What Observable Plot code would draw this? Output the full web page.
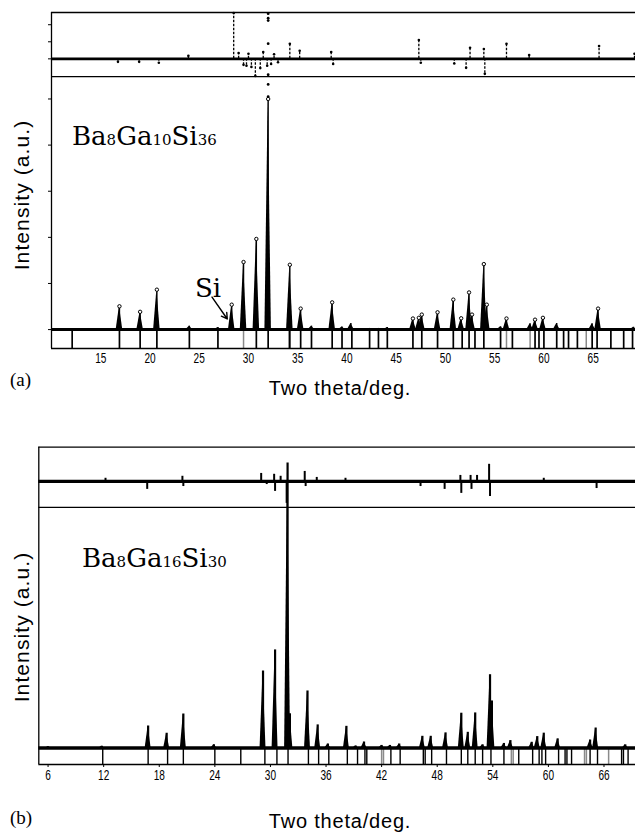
<!DOCTYPE html>
<html><head><meta charset="utf-8">
<script src="https://cdn.jsdelivr.net/npm/d3@7"></script>
<script src="https://cdn.jsdelivr.net/npm/@observablehq/plot@0.6"></script>
<style>
body{margin:0;background:#fff;}
#page{position:relative;width:635px;height:834px;overflow:hidden;background:#fff;}
.abs{position:absolute;white-space:nowrap;color:#000;}
.ylab{font-family:"Liberation Sans",Arial,sans-serif;font-size:21px;letter-spacing:1.1px;transform:translate(-50%,-50%) rotate(-90deg);}
.xlab{font-family:"Liberation Sans",Arial,sans-serif;font-size:20px;letter-spacing:0.8px;transform:translate(-50%,-50%);}
.plab{font-family:"Liberation Serif","Times New Roman",serif;font-size:19px;transform:translate(0,-50%);}
.formula{font-family:"DejaVu Serif",serif;font-size:26px;line-height:1;}
.formula .n{font-size:15px;}
svg{position:absolute;left:0;}
</style></head><body><div id="page"></div>
<script>
// ---------- Panel (a): Ba8Ga10Si36 ----------
const xTicksA = [15,20,25,30,35,40,45,50,55,60,65];
const peakPosA = [16.9,19.0,20.7,24.0,26.9,28.3,29.5,30.8,32.0,34.2,35.3,36.4,38.5,39.5,40.4,42.3,43.2,44.1,46.7,47.3,47.6,49.2,50.8,51.6,52.4,52.7,53.9,54.2,55.6,56.2,58.6,59.1,59.9,61.3,64.9,65.5,69.1];
const peakIntA = [10.1,7.7,17.3,1.5,0.9,10.8,29.3,39.3,100,28.1,9.1,1.5,11.8,1.1,2.6,0.5,0.5,0.9,4.8,5.1,6.5,7.5,13.0,4.9,16.1,6.5,28.4,10.8,1.2,4.8,2.5,4.3,5.1,2.6,2.5,9.1,1.0];
const obsExtraA = [137,135,134,124,110.5,106.3,101];   // observed points of the 32° peak above the calc. curve
const diffPosA = [16.75,18.9,20.9,23.9,28.5,29.0,29.5,29.8,30.0,30.3,30.7,31.2,31.5,31.9,32.3,32.6,33.0,34.2,35.2,38.4,38.6,47.3,47.5,50.9,52.1,52.5,53.9,54.0,56.2,58.5,65.6,69.2];
const diffValA = [-1.3,-1.3,-1.7,1.3,19.9,2.5,-2.6,-3.0,2.2,-3.5,-7.4,-4.0,3.0,-3.0,-2.2,2.0,-1.5,6.5,3.5,3.0,-2.2,8.2,-1.7,-2.0,-3.9,4.8,4.3,-6.5,6.5,1.7,5.6,2.2];
const braggA = [12.1,16.9,19.0,20.7,24.0,26.9,30.8,32.0,34.2,35.3,36.4,38.5,39.5,40.5,42.3,43.2,44.1,46.7,47.6,49.2,50.8,51.7,52.4,53.0,53.9,55.6,56.8,59.1,59.5,60.0,61.3,62.0,62.5,63.4,64.9,65.4,66.8,68.1,69.0];
const braggGrayA = [29.5,34.1,56.2,58.6,64.3];
const yTicksA = [0,20,40,60,80,100,117.4,124.8,132.2];
const siArrow = [{x1:26.3, y1:14.1, x2:27.85, y2:4.6}];

// ---------- Panel (b): Ba8Ga16Si30 ----------
const xTicksB = [6,12,18,24,30,36,42,48,54,60,66];
const peakPosB = [6.0,11.8,16.8,18.8,20.6,23.9,29.2,30.5,31.85,32.1,34.0,35.1,36.2,38.2,39.2,40.1,42.0,42.9,43.9,46.4,47.3,48.9,50.6,51.3,52.1,52.9,53.7,53.9,55.2,55.9,58.2,58.8,59.5,61.0,64.5,65.1,68.3];
const peakIntB = [0.4,0.6,7.7,5.2,11.9,1.1,27,34.4,100,12,20,8.1,1.4,7.6,0.7,2.1,0.9,0.9,1.4,4.1,4.1,5.3,12.2,5.5,12.3,1.1,25.7,16.5,1.6,2.6,2.0,4.0,5.2,3.2,2.8,7.0,1.1];
const diffPosB = [12.2,16.7,20.5,20.6,29.0,29.6,30.4,30.5,31.1,31.75,33.7,33.8,35.0,38.1,46.2,48.8,50.5,50.6,51.6,51.7,52.3,53.6,53.7,59.5,60.6,65.2];
const diffValB = [1.1,-2.8,1.8,-1.8,2.8,-1.1,2.5,-3.5,1.8,-7.7,3.5,-1.8,1.4,1.1,-1.8,-2.8,2.1,-4.2,2.1,-2.8,2.1,6.0,-5.3,1.1,-0.7,-2.5];
const braggB = [11.9,16.8,18.9,20.6,24.0,26.8,29.4,30.7,31.9,34.1,35.2,36.3,38.3,39.4,40.2,40.4,43.0,44.0,46.5,46.7,47.4,49.0,50.6,51.3,52.1,52.9,53.8,55.2,56.8,58.3,59.0,59.3,59.7,61.1,61.8,62.0,62.5,64.5,65.3,67.9,68.1,68.6];
const braggGrayB = [42.0,42.2,56.0,56.2,63.9,64.1,66.5];

// panel geometry (in each panel's intensity units)
const PA = {x: [10, 69.3], bottom: -8.2, top: 137.5, divider: 109.7, diffBase: 117.4, hw: 0.33};
const PB = {x: [5, 69.4], bottom: -5.79, top: 105.5, divider: 84.4, diffBase: 93.5, hw: 0.32};

function tri(pos, inten, hw) {
  const rows = [];
  pos.forEach((p, i) => rows.push({x: p - hw, y: 0, k: i}, {x: p, y: inten[i], k: i}, {x: p + hw, y: 0, k: i}));
  return rows;
}
const zipPI = (pos, v) => pos.map((p, i) => ({pos: p, v: v[i]}));

function panel(o) {
  const P = o.P;
  const peaks = zipPI(o.peakPos, o.peakInt);
  const diff = zipPI(o.diffPos, o.diffVal);
  const marks = [
    Plot.ruleX(o.braggGray, {y1: P.bottom, y2: 0, stroke: "#8a8a8a", strokeWidth: 1.5}),
    Plot.ruleX(o.bragg, {y1: P.bottom, y2: 0, stroke: "black", strokeWidth: o.braggW}),
    Plot.areaY(tri(o.peakPos, o.peakInt, P.hw), {x: "x", y: "y", z: "k", fill: "black", clip: true}),
    Plot.ruleX(peaks, {x: "pos", y1: 0, y2: "v", stroke: "black", strokeWidth: o.peakW, clip: true}),
    Plot.ruleY([0], {stroke: "black", strokeWidth: o.baseW}),
    Plot.ruleY([P.diffBase], {stroke: "black", strokeWidth: o.diffW}),
    Plot.ruleX(diff, {x: "pos", y1: P.diffBase, y2: d => P.diffBase + d.v, stroke: "black", strokeWidth: o.diffSpikeW, strokeDasharray: o.diffDash}),
    Plot.ruleY([P.top, P.divider, P.bottom], {stroke: "black", strokeWidth: 1.3}),
    Plot.ruleX([P.x[0]], {y1: P.bottom, y2: P.top, stroke: "black", strokeWidth: 1.3}),
    Plot.axisX({ticks: o.xTicks, tickSize: o.xTickSize, tickPadding: o.xTickPad, label: null, tickFormat: d => String(d)}),
  ];
  if (o.dots) {
    marks.push(Plot.dot(peaks.filter(d => d.v > 3), {x: "pos", y: "v", r: 1.7, fill: "white", stroke: "black", strokeWidth: 1, clip: true}));
    marks.push(Plot.dot(diff, {x: "pos", y: d => P.diffBase + d.v, r: 1.3, fill: "black"}));
  }
  if (o.extra) marks.push(...o.extra);
  if (o.yTicks) marks.push(Plot.axisY({ticks: o.yTicks, tickSize: 3, tickFormat: () => "", label: null}));
  else marks.push(Plot.axisY({ticks: [], label: null}));
  const svg = Plot.plot({
    width: 635, height: o.height,
    marginLeft: o.ml, marginRight: 0, marginTop: o.mt, marginBottom: o.mb,
    x: {domain: P.x},
    y: {domain: [P.bottom, P.top]},
    style: {fontFamily: "'Liberation Sans',Arial,sans-serif", fontSize: "14px", color: "black", background: "white", overflow: "visible"},
    marks
  });
  // condensed tick-label look of the original figure
  d3.select(svg).selectAll("g[aria-label='x-axis tick label'] text").each(function () {
    const t = this.getAttribute("transform") || "";
    this.setAttribute("transform", t + " scale(0.72,1.08)");
  });
  return svg;
}

const chartA = panel({
  P: PA, peakPos: peakPosA, peakInt: peakIntA, diffPos: diffPosA, diffVal: diffValA,
  bragg: braggA, braggGray: braggGrayA, xTicks: xTicksA, yTicks: yTicksA,
  height: 372, ml: 51, mt: 12, mb: 24, xTickSize: 0, xTickPad: 4,
  braggW: 1.7, peakW: 1.4, baseW: 3, diffW: 2.6, diffSpikeW: 1.3, diffDash: "2.5,1.5", dots: true,
  extra: [
    Plot.dot(obsExtraA, {x: () => 32.0, y: d => d, r: 1.4, fill: "black"}),
    Plot.arrow(siArrow, {x1: "x1", y1: "y1", x2: "x2", y2: "y2", stroke: "black", strokeWidth: 1.4, headLength: 7})
  ]
});
chartA.style.top = "0px";

const chartB = panel({
  P: PB, peakPos: peakPosB, peakInt: peakIntB, diffPos: diffPosB, diffVal: diffValB,
  bragg: braggB, braggGray: braggGrayB, xTicks: xTicksB, yTicks: null,
  height: 360, ml: 38.3, mt: 16.7, mb: 26, xTickSize: 3, xTickPad: 2,
  braggW: 1.4, peakW: 2.2, baseW: 3.5, diffW: 3.2, diffSpikeW: 2, diffDash: null, dots: false
});
chartB.style.top = "430px";

const page = document.getElementById("page");
page.appendChild(chartA);
page.appendChild(chartB);

function addText(cls, html, left, top) {
  const d = document.createElement("div");
  d.className = "abs " + cls;
  d.innerHTML = html;
  d.style.left = left + "px";
  d.style.top = top + "px";
  page.appendChild(d);
}
addText("ylab", "Intensity (a.u.)", 22, 195);
addText("ylab", "Intensity (a.u.)", 22, 627);
addText("xlab", "Two theta/deg.", 340, 388);
addText("xlab", "Two theta/deg.", 340, 821);
addText("plab", "(a)", 10, 380);
addText("plab", "(b)", 10, 818);
addText("formula", 'Ba<span class="n">8</span>Ga<span class="n">10</span>Si<span class="n">36</span>', 72, 123);
addText("formula", 'Ba<span class="n">8</span>Ga<span class="n">16</span>Si<span class="n">30</span>', 82, 545);
addText("formula", 'Si', 195, 275);
</script></body></html>
